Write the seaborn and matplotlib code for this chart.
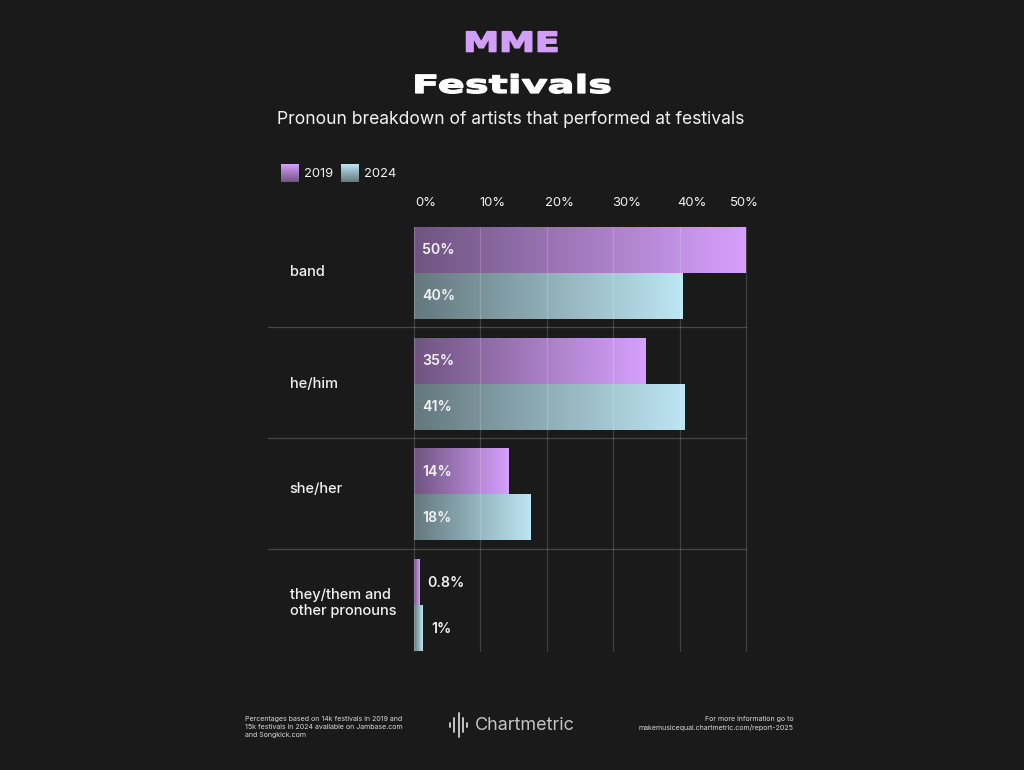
import numpy as np
import pandas as pd
import matplotlib
matplotlib.use("Agg")
import matplotlib.pyplot as plt
import matplotlib.patheffects as pe
from matplotlib.colors import LinearSegmentedColormap
from matplotlib.lines import Line2D
from matplotlib.transforms import Affine2D, ScaledTranslation
import seaborn as sns

# data
pronouns = ["band", "he/him", "she/her", "they/them and\nother pronouns"]
years = ["2019", "2024"]
values_2019 = [50, 34.9, 14.2, 0.8]
values_2024 = [40.5, 40.7, 17.6, 1.3]
labels_2019 = ["50%", "35%", "14%", "0.8%"]
labels_2024 = ["40%", "41%", "18%", "1%"]
tick_values = [0, 10, 20, 30, 40, 50]
tick_labels = ["0%", "10%", "20%", "30%", "40%", "50%"]

BG = "#1a1a1a"
TEXT = "#f2f2f2"
PURPLE = "#d29ff8"

cmap_2019 = LinearSegmentedColormap.from_list("c2019", ["#6f5480", "#d6a0fc"])
cmap_2024 = LinearSegmentedColormap.from_list("c2024", ["#64787d", "#bde6f3"])

W, H = 1024, 770


class Stretch(pe.AbstractPathEffect):
    # widen a text around its centre, the installed fonts have no extended cut
    def __init__(self, sx, cx, lw=0.0):
        super().__init__()
        self.sx, self.cx, self.lw = sx, cx, lw

    def draw_path(self, renderer, gc, tpath, affine, rgbFace=None):
        gc0 = renderer.new_gc()
        gc0.copy_properties(gc)
        gc0.set_linewidth(self.lw)
        gc0.set_foreground(rgbFace)
        wide = affine + Affine2D().translate(-self.cx, 0).scale(self.sx, 1).translate(self.cx, 0)
        renderer.draw_path(gc0, tpath, wide, rgbFace)
        gc0.restore()


df = pd.DataFrame({
    "pronoun": pronouns * 2,
    "year": [years[0]] * 4 + [years[1]] * 4,
    "pct": values_2019 + values_2024,
})

sns.set_theme(style="dark")
plt.rcParams["font.family"] = ["Inter", "DejaVu Sans"]

fig = plt.figure(figsize=(W / 100, H / 100), dpi=100, facecolor=BG)
ax = fig.add_axes([414 / W, 1 - 651 / H, 332 / W, 424 / H], facecolor="none")

sns.barplot(data=df, y="pronoun", x="pct", hue="year", hue_order=years, order=pronouns,
            width=0.83, gap=0, palette=["#a07ac0", "#98bcc6"], legend=False, ax=ax, zorder=2)

# swap flat fill for the left-to-right gradient
gradient = np.linspace(0, 1, 256).reshape(1, -1)
n = len(pronouns)
for i, patch in enumerate([p for p in ax.patches if p.get_width() > 0]):
    cmap = cmap_2019 if i < n else cmap_2024
    x0, y0, w, h = patch.get_x(), patch.get_y(), patch.get_width(), patch.get_height()
    ax.imshow(gradient, extent=(x0, x0 + w, y0 + h, y0), cmap=cmap, aspect="auto", zorder=2.5)
    patch.set_visible(False)

ax.set_xlim(0, 50)
ax.set_ylim(3.415, -0.415)
ax.set_xlabel("")
ax.set_ylabel("")
for s in ax.spines.values():
    s.set_visible(False)

# gridlines on top of the bars, faint
ax.set_xticks(tick_values)
ax.set_xticklabels(tick_labels)
for v in tick_values:
    ax.axvline(v, color="#ffffff", alpha=0.17, lw=0.9, zorder=3, clip_on=False)
ax.grid(False)
ax.tick_params(axis="x", top=True, bottom=False, labeltop=True, labelbottom=False,
               length=0, pad=13, labelsize=9.4, labelcolor=TEXT)
x_nudge = [12, 12, 12.5, 13, 12.5, -2]
for lab, dx in zip(ax.get_xticklabels(), x_nudge):
    lab.set_transform(lab.get_transform() + ScaledTranslation(dx / 100, 0, fig.dpi_scale_trans))

# separators run out under the category labels
for y in [0.49, 1.49, 2.49]:
    ax.plot([-22, 50], [y, y], color="#ffffff", alpha=0.2, lw=0.9, clip_on=False, zorder=3)

y_nudge = [2, 1.5, 6.5, 5]
ax.tick_params(axis="y", length=0, pad=89.5, labelsize=10.5, labelcolor=TEXT)
for lab, dy in zip(ax.get_yticklabels(), y_nudge):
    lab.set_ha("left")
    lab.set_fontweight("medium")
    lab.set_linespacing(1.2)
    lab.set_transform(lab.get_transform() + ScaledTranslation(0, dy / 100, fig.dpi_scale_trans))

# value labels
for i in range(n):
    for vals, labs, off in ((values_2019, labels_2019, -0.2075), (values_2024, labels_2024, 0.2075)):
        dx = 8 if vals[i] > 5 else (13.5 if labs is labels_2019 else 17.5)
        ax.annotate(labs[i], xy=(0, i + off), xytext=(dx, -0.5), textcoords="offset pixels",
                    ha="left", va="center", fontsize=10.2, fontweight="semibold", color=TEXT, zorder=5)

# header
fig.text(511.5 / W, 1 - 51.5 / H, "MME", ha="center", va="baseline", fontsize=19.5, fontweight="bold",
         family="DejaVu Sans", color=PURPLE, path_effects=[Stretch(1.33, 511.5, lw=1.2)])
fig.text(512 / W, 1 - 93 / H, "Festivals", ha="center", va="baseline", fontsize=18, fontweight="bold",
         family="DejaVu Sans", color="#ffffff", path_effects=[Stretch(1.6, 512, lw=0.9)])
fig.text(510.5 / W, 1 - 120 / H, "Pronoun breakdown of artists that performed at festivals",
         ha="center", va="center", fontsize=12.6, color=TEXT)

# legend with vertical gradient swatches
for x0, cmap, year, tx in ((281, cmap_2019, years[0], 304), (341, cmap_2024, years[1], 364)):
    lax = fig.add_axes([x0 / W, 1 - 182 / H, 18 / W, 18 / H])
    lax.imshow(gradient.T[::-1], cmap=cmap, aspect="auto")
    lax.axis("off")
    fig.text(tx / W, 1 - 174 / H, year, ha="left", va="center", fontsize=9.4, color=TEXT)

# footer
fig.text(245 / W, 1 - 727 / H,
         "Percentages based on 14k festivals in 2019 and\n15k festivals in 2024 available on Jambase.com\nand Songkick.com",
         ha="left", va="center", fontsize=5.05, color="#d8d8d8", linespacing=1.38)
fig.text(793.5 / W, 1 - 723.5 / H,
         "For more information go to\nmakemusicequal.chartmetric.com/report-2025",
         ha="right", va="center", fontsize=5.05, color="#d8d8d8", linespacing=1.38)
fig.text(475 / W, 1 - 726 / H, "Chartmetric", ha="left", va="center", fontsize=12.95, color="#c4c4c4")

# chartmetric sound-wave mark
for x, half in ((450, 2), (454, 7), (458.5, 12), (463, 7), (467, 2)):
    fig.add_artist(Line2D([x / W, x / W], [1 - (725 - half) / H, 1 - (725 + half) / H],
                          color="#c4c4c4", lw=1.4, solid_capstyle="round"))

fig.savefig("out.png", dpi=100, facecolor=BG)
